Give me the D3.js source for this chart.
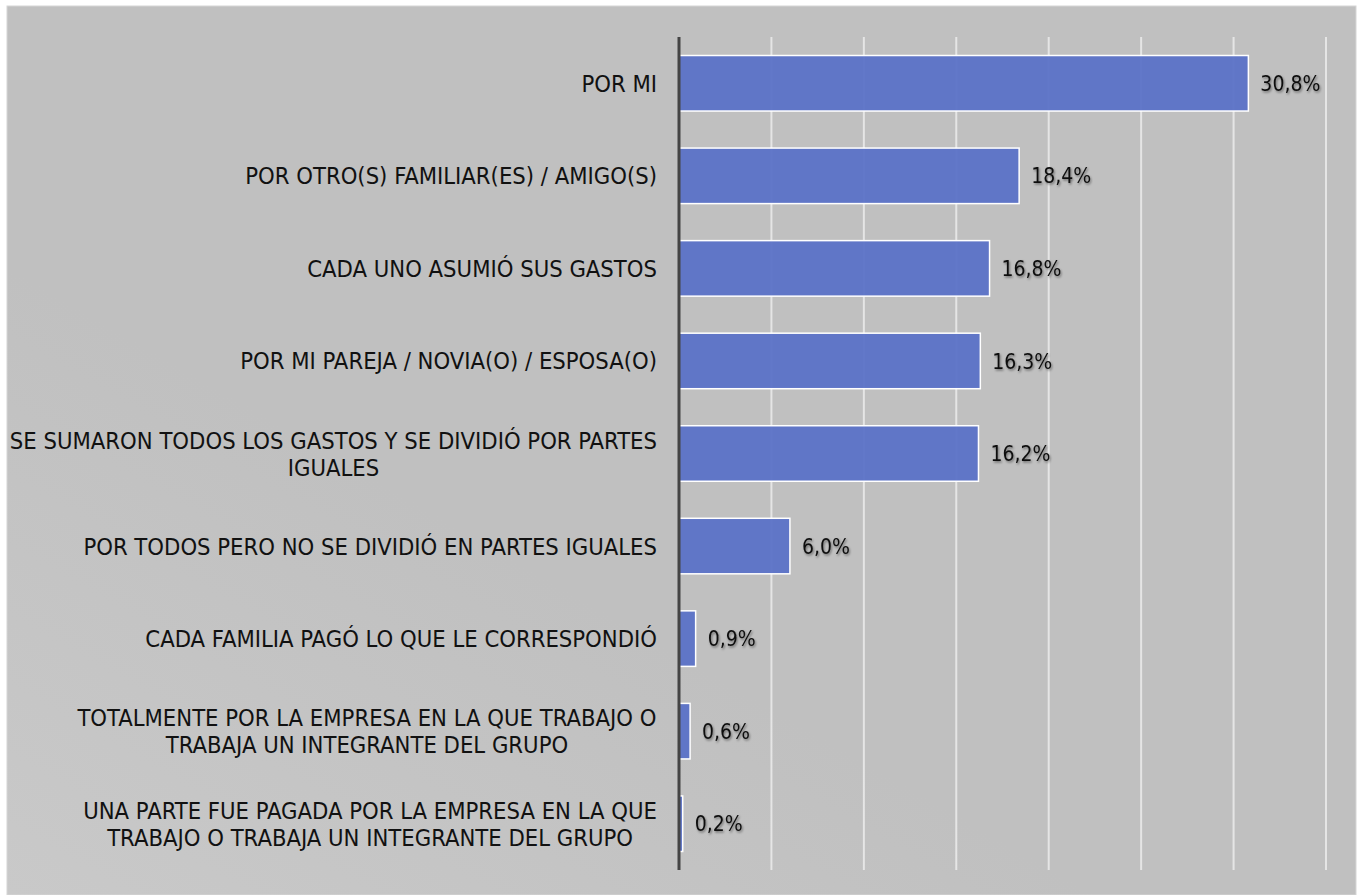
<!DOCTYPE html>
<html>
<head>
<meta charset="utf-8">
<script src="https://cdn.jsdelivr.net/npm/d3@7"></script>
<style>
  body { margin: 0; background: #fff; }
  svg { display: block; }
  text { font-family: "DejaVu Sans Condensed", "DejaVu Sans", sans-serif; fill: #111; }
</style>
</head>
<body>
<div id="chart"></div>
<script>
var figw = 1358
var figh = 895

// categories, one entry per bar, with the line breaks of the picture
var categories = [
  ["POR MI"],
  ["POR OTRO(S) FAMILIAR(ES) / AMIGO(S)"],
  ["CADA UNO ASUMIÓ SUS GASTOS"],
  ["POR MI PAREJA / NOVIA(O) / ESPOSA(O)"],
  ["SE SUMARON TODOS LOS GASTOS Y SE DIVIDIÓ POR PARTES", "IGUALES"],
  ["POR TODOS PERO NO SE DIVIDIÓ EN PARTES IGUALES"],
  ["CADA FAMILIA PAGÓ LO QUE LE CORRESPONDIÓ"],
  ["TOTALMENTE POR LA EMPRESA EN LA QUE TRABAJO O", "TRABAJA UN INTEGRANTE DEL GRUPO"],
  ["UNA PARTE FUE PAGADA POR LA EMPRESA EN LA QUE", "TRABAJO O TRABAJA UN INTEGRANTE DEL GRUPO"]
]
var values = [30.8, 18.4, 16.8, 16.3, 16.2, 6.0, 0.9, 0.6, 0.2]
var gridTicks = [0, 5, 10, 15, 20, 25, 30, 35]

var margin = {top: 37, right: 32, bottom: 25, left: 679},
    width = figw - margin.left - margin.right,
    height = figh - margin.top - margin.bottom;

var root = d3.select("#chart")
  .append("svg")
    .attr("width", figw)
    .attr("height", figh)

var defs = root.append("defs")
var grad = defs.append("linearGradient")
    .attr("id", "bg").attr("x1", "0").attr("y1", "1").attr("x2", "0.35").attr("y2", "0.6")
grad.append("stop").attr("offset", "0").attr("stop-color", "#c9c9c9")
grad.append("stop").attr("offset", "1").attr("stop-color", "#c0c0c0")

var shadow = defs.append("filter").attr("id", "shadow")
    .attr("x", "-20%").attr("y", "-30%").attr("width", "150%").attr("height", "170%")
shadow.append("feDropShadow")
    .attr("dx", 1).attr("dy", 1.5).attr("stdDeviation", 1)
    .attr("flood-color", "#000").attr("flood-opacity", 0.45)

// chart area
root.append("rect")
    .attr("x", 7).attr("y", 6)
    .attr("width", figw - 9).attr("height", figh - 6)
    .attr("fill", "url(#bg)")
    .attr("stroke", "#d6d6d6").attr("stroke-width", 1)

var svg = root.append("g")
    .attr("transform", "translate(" + margin.left + "," + margin.top + ")")

var x = d3.scaleLinear()
  .domain([0, 35])
  .range([0, width])

var y = d3.scaleBand()
  .domain(d3.range(categories.length))
  .range([0, height])
  .paddingInner(0.4)
  .paddingOuter(0.2)

// vertical gridlines
svg.append("g")
  .selectAll("line")
  .data(gridTicks.slice(1))
  .enter()
  .append("line")
    .attr("x1", function (d) { return x(d) })
    .attr("x2", function (d) { return x(d) })
    .attr("y1", 0)
    .attr("y2", height)
    .attr("stroke", "#f2f2f2")
    .attr("stroke-opacity", 0.75)
    .attr("stroke-width", 2)

// bars
svg.append("g")
  .selectAll("rect")
  .data(values)
  .enter()
  .append("rect")
    .attr("x", x(0))
    .attr("y", function (d, i) { return y(i) })
    .attr("width", function (d) { return x(d) - x(0) })
    .attr("height", y.bandwidth())
    .attr("fill", "#5b72c7")
    .attr("fill-opacity", 0.95)
    .attr("stroke", "#ffffff")
    .attr("stroke-width", 1.5)

// axis line
svg.append("line")
    .attr("x1", x(0)).attr("x2", x(0))
    .attr("y1", 0).attr("y2", height)
    .attr("stroke", "#444").attr("stroke-width", 3)

// value labels
svg.append("g")
  .selectAll("text")
  .data(values)
  .enter()
  .append("text")
    .attr("x", function (d) { return x(d) + 12 })
    .attr("y", function (d, i) { return y(i) + y.bandwidth() / 2 })
    .attr("dy", "0.36em")
    .attr("font-size", 21)
    .attr("filter", "url(#shadow)")
    .text(function (d) { return d.toFixed(1).replace(".", ",") + "%" })

// category labels, lines centred, block right aligned
var labelSize = 23.6
var lineH = 27
var labels = svg.append("g")
  .selectAll("g")
  .data(categories)
  .enter()
  .append("g")
    .attr("transform", function (d, i) { return "translate(0," + (y(i) + y.bandwidth() / 2) + ")" })

labels.each(function (lines) {
  var g = d3.select(this)
  var t = g.append("text")
    .attr("font-size", labelSize)
    .attr("text-anchor", "middle")
  lines.forEach(function (ln, k) {
    t.append("tspan")
      .attr("x", 0)
      .attr("y", (k - (lines.length - 1) / 2) * lineH)
      .attr("dy", "0.36em")
      .text(ln)
  })
  var w = t.node().getBBox().width
  t.attr("transform", "translate(" + (-22 - w / 2) + ",0)")
})
</script>
</body>
</html>
